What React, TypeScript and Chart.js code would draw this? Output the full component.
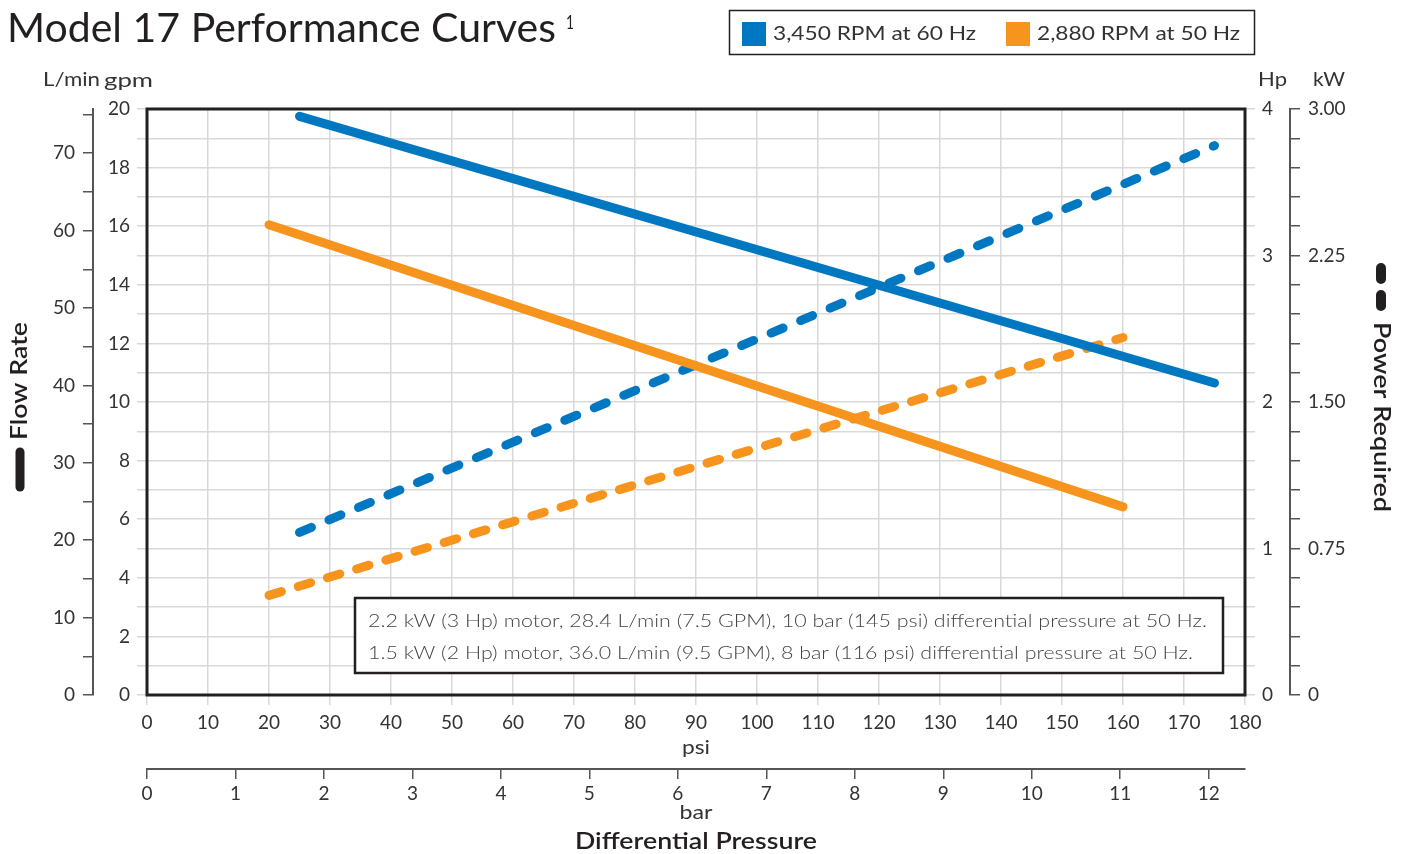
import React, { useEffect, useRef } from "react";
import { Chart, registerables } from "chart.js";

Chart.register(...registerables);

// ---- data ----
const psiBlue = [25, 175];
const flowBlueGpm = [19.75, 10.65];
const powerBlueHp = [1.11, 3.75];

const psiOrange = [20, 160];
const flowOrangeGpm = [16.05, 6.42];
const powerOrangeHp = [0.68, 2.44];

const seriesNames = ["3,450 RPM at 60 Hz", "2,880 RPM at 50 Hz"];
const noteLines = [
  "2.2 kW (3 Hp) motor, 28.4 L/min (7.5 GPM), 10 bar (145 psi) differential pressure at 50 Hz.",
  "1.5 kW (2 Hp) motor, 36.0 L/min (9.5 GPM), 8 bar (116 psi) differential pressure at 50 Hz.",
];

const PSI_MAX = 180;
const GPM_MAX = 20;
const HP_MAX = 4;
const KW_MAX = 3;
const LPM_PER_GPM = 3.78541;
const PSI_PER_BAR = 14.5038;

const BLUE = "#0078c1";
const ORANGE = "#f7941d";
const INK = "#231f20";
const TEXT = "#333333";
const GRID = "#d9d9d9";
const FONT = "Lato";

const toPts = (xs: number[], ys: number[]) => xs.map((x, i) => ({ x, y: ys[i] }));

// draw text horizontally stretched to a given width (reference font is wider than Lato)
function fitText(ctx: any, text: string, x: number, y: number, width: number, align: "left" | "center" = "left") {
  const w = ctx.measureText(text).width;
  const sx = width / w;
  ctx.save();
  ctx.translate(x, y);
  ctx.scale(sx, 1);
  ctx.textAlign = align;
  ctx.fillText(text, 0, 0);
  ctx.restore();
}

const extras = {
  id: "extras",
  beforeDatasetsDraw(chart: any) {
    const ctx = chart.ctx;
    ctx.save();
    ctx.fillStyle = "#ffffff";
    ctx.fillRect(355, 598, 868, 75);
    ctx.lineWidth = 2.5;
    ctx.strokeStyle = INK;
    ctx.strokeRect(355, 598, 868, 75);
    ctx.fillStyle = "#444444";
    ctx.font = `300 18px ${FONT}`;
    ctx.textBaseline = "middle";
    fitText(ctx, noteLines[0], 368, 621, 839);
    fitText(ctx, noteLines[1], 368, 653, 825);
    ctx.restore();
  },
  afterDraw(chart: any) {
    const ctx = chart.ctx;
    const a = chart.chartArea;
    ctx.save();
    ctx.lineWidth = 3;
    ctx.strokeStyle = INK;
    ctx.strokeRect(a.left, a.top, a.right - a.left, a.bottom - a.top);

    ctx.fillStyle = INK;
    ctx.textBaseline = "alphabetic";
    // title
    ctx.font = `400 40px ${FONT}`;
    fitText(ctx, "Model 17 Performance Curves", 7, 42, 549);
    ctx.font = `400 19px ${FONT}`;
    fitText(ctx, "1", 566, 29, 8);

    // legend
    ctx.lineWidth = 1.5;
    ctx.strokeStyle = INK;
    ctx.strokeRect(729.5, 10.5, 525, 44);
    ctx.fillStyle = BLUE;
    ctx.fillRect(742, 22, 24, 24);
    ctx.fillStyle = ORANGE;
    ctx.fillRect(1006, 22, 24, 24);
    ctx.fillStyle = TEXT;
    ctx.font = `400 19px ${FONT}`;
    ctx.textBaseline = "middle";
    fitText(ctx, seriesNames[0], 773, 34, 203);
    fitText(ctx, seriesNames[1], 1037, 34, 203);

    // unit headers
    fitText(ctx, "L/min", 43, 80, 57);
    fitText(ctx, "gpm", 104, 81, 49);
    fitText(ctx, "Hp", 1258, 80, 29);
    fitText(ctx, "kW", 1313, 80, 32);

    // bottom titles
    fitText(ctx, "psi", 696, 748, 28, "center");
    fitText(ctx, "bar", 696, 813, 33, "center");
    ctx.font = `600 22px ${FONT}`;
    ctx.fillStyle = INK;
    fitText(ctx, "Differential Pressure", 696, 842, 242, "center");

    // Flow Rate (left, rotated)
    ctx.save();
    ctx.translate(20, 381);
    ctx.rotate(-Math.PI / 2);
    ctx.font = `600 22px ${FONT}`;
    ctx.textBaseline = "middle";
    fitText(ctx, "Flow Rate", 0, 0, 118, "center");
    ctx.restore();
    ctx.lineCap = "round";
    ctx.strokeStyle = INK;
    ctx.lineWidth = 9;
    ctx.beginPath();
    ctx.moveTo(20, 452);
    ctx.lineTo(20, 487);
    ctx.stroke();

    // Power Required (right, rotated)
    ctx.save();
    ctx.translate(1381, 417);
    ctx.rotate(Math.PI / 2);
    ctx.font = `600 22px ${FONT}`;
    ctx.textBaseline = "middle";
    fitText(ctx, "Power Required", 0, 0, 190, "center");
    ctx.restore();
    ctx.lineWidth = 10;
    ctx.beginPath();
    ctx.moveTo(1381, 268);
    ctx.lineTo(1381, 279);
    ctx.moveTo(1381, 295);
    ctx.lineTo(1381, 306);
    ctx.stroke();
    ctx.restore();
  },
};

const tickFont = { family: FONT, size: 19 };

export default function App() {
  const ref = useRef<HTMLCanvasElement>(null);

  useEffect(() => {
    document.body.style.margin = "0";
    document.body.style.overflow = "hidden";
    const canvas = ref.current!;
    const lineBase = { borderWidth: 9, borderCapStyle: "round", pointRadius: 0, xAxisID: "x" };
    const chart = new Chart(canvas, {
      type: "line",
      data: {
        datasets: [
          { ...lineBase, label: seriesNames[0] + " flow", data: toPts(psiBlue, flowBlueGpm), yAxisID: "y", borderColor: BLUE },
          { ...lineBase, label: seriesNames[1] + " flow", data: toPts(psiOrange, flowOrangeGpm), yAxisID: "y", borderColor: ORANGE },
          { ...lineBase, label: seriesNames[0] + " power", data: toPts(psiBlue, powerBlueHp), yAxisID: "yHp", borderColor: BLUE, borderDash: [13, 19] },
          { ...lineBase, label: seriesNames[1] + " power", data: toPts(psiOrange, powerOrangeHp), yAxisID: "yHp", borderColor: ORANGE, borderDash: [13, 17.5] },
        ],
      },
      options: {
        responsive: false,
        animation: false,
        devicePixelRatio: 1,
        layout: { padding: { top: 109, left: 0, right: 0, bottom: 0 } },
        plugins: { legend: { display: false }, tooltip: { enabled: false }, title: { display: false } },
        scales: {
          x: {
            type: "linear",
            position: "bottom",
            weight: 0,
            min: 0,
            max: PSI_MAX,
            grid: { color: GRID, lineWidth: 1.5, tickLength: 10 },
            border: { display: false },
            ticks: { stepSize: 10, font: tickFont, color: TEXT, padding: 6, autoSkip: false, maxRotation: 0 },
            afterFit: (s: any) => { s.height = 74; },
          },
          xBar: {
            type: "linear",
            position: "bottom",
            weight: 1,
            min: 0,
            max: PSI_MAX / PSI_PER_BAR,
            grid: { drawOnChartArea: false, color: "#555555", lineWidth: 1.5, tickLength: 10 },
            border: { display: true, color: "#555555", width: 2 },
            ticks: { stepSize: 1, includeBounds: false, font: tickFont, color: TEXT, padding: 3, autoSkip: false, maxRotation: 0 },
            afterFit: (s: any) => { s.height = 85; },
          },
          y: {
            type: "linear",
            position: "left",
            weight: 0,
            min: 0,
            max: GPM_MAX,
            grid: { color: GRID, lineWidth: 1.5, tickLength: 10 },
            border: { display: false },
            ticks: {
              stepSize: 1,
              autoSkip: false,
              font: tickFont,
              color: TEXT,
              padding: 7,
              callback: (v: any) => (Math.round(v) % 2 === 0 ? String(Math.round(v)) : ""),
            },
            afterFit: (s: any) => { s.width = 54; },
          },
          yLpm: {
            type: "linear",
            position: "left",
            weight: 1,
            min: 0,
            max: GPM_MAX * LPM_PER_GPM,
            grid: { drawOnChartArea: false, color: "#555555", lineWidth: 1.5, tickLength: 10 },
            border: { display: true, color: "#555555", width: 2 },
            ticks: {
              stepSize: 5,
              includeBounds: false,
              autoSkip: false,
              font: tickFont,
              color: TEXT,
              padding: 8,
              callback: (v: any) => (Math.round(v) % 10 === 0 ? String(Math.round(v)) : ""),
            },
            afterFit: (s: any) => { s.width = 93; },
          },
          yHp: {
            type: "linear",
            position: "right",
            weight: 0,
            min: 0,
            max: HP_MAX,
            grid: { drawOnChartArea: false, color: GRID, lineWidth: 1.5, tickLength: 10 },
            border: { display: false },
            ticks: {
              stepSize: 0.2,
              autoSkip: false,
              font: tickFont,
              color: TEXT,
              padding: 7,
              callback: (v: any) => {
                const r = Math.round(v * 10);
                return r % 10 === 0 ? String(r / 10) : "";
              },
            },
            afterFit: (s: any) => { s.width = 45; },
          },
          yKw: {
            type: "linear",
            position: "right",
            weight: 1,
            min: 0,
            max: KW_MAX,
            grid: { drawOnChartArea: false, color: "#555555", lineWidth: 1.5, tickLength: 10 },
            border: { display: true, color: "#555555", width: 2 },
            ticks: {
              stepSize: 0.15,
              autoSkip: false,
              font: tickFont,
              color: TEXT,
              padding: 8,
              callback: (v: any) => {
                const r = Math.round(v * 100);
                if (r % 75 !== 0) return "";
                return r === 0 ? "0" : (r / 100).toFixed(2);
              },
            },
            afterFit: (s: any) => { s.width = 117; },
          },
        },
      } as any,
      plugins: [extras],
    });
    return () => chart.destroy();
  }, []);

  return <canvas ref={ref} width={1407} height={854} style={{ display: "block" }} />;
}
